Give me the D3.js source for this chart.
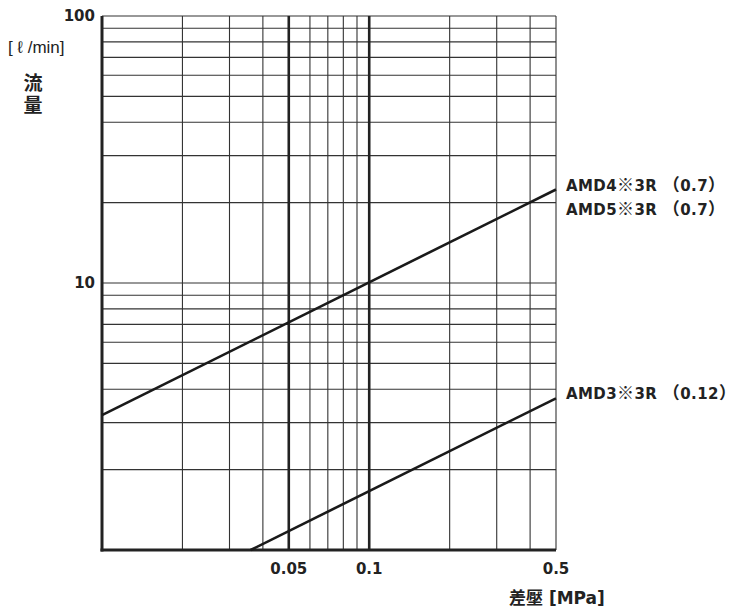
<!DOCTYPE html>
<html>
<head>
<meta charset="utf-8">
<script src="https://cdn.jsdelivr.net/npm/d3@7"></script>
<style>
  html, body { margin: 0; padding: 0; background: #fff; }
  svg text { font-family: "DejaVu Sans", "Noto Sans CJK JP", sans-serif; fill: #222; }
  .cjk { font-family: "Noto Sans CJK JP", sans-serif; font-size: 17px; }
</style>
</head>
<body>
<svg id="chart" width="737" height="613"></svg>
<script>
// ---- data ----
const xDomain = [0.01, 0.5];
const yDomain = [1, 100];
const xGrid = [0.02, 0.03, 0.04, 0.05, 0.06, 0.07, 0.08, 0.09, 0.1, 0.2, 0.3, 0.4, 0.5];
const xBold = [0.05, 0.1];
const yGrid = [2, 3, 4, 5, 6, 7, 8, 9, 10, 20, 30, 40, 50, 60, 70, 80, 90, 100];
const xTickLabels = [0.05, 0.1, 0.5];
const yTickLabels = [10, 100];
const seriesLabelsAMD45 = ["AMD4※3R （0.7）", "AMD5※3R （0.7）"];
const seriesLabelAMD3 = "AMD3※3R （0.12）";
const seriesAMD45 = [{x: 0.01, y: 3.2}, {x: 0.5, y: 22.4}];
const seriesAMD3 = [{x: 0.036, y: 1}, {x: 0.5, y: 3.7}];

const svg = d3.select("#chart");
const mLeft = 102, mRight = 556, mTop = 16, mBottom = 550;
const x = d3.scaleLog().domain(xDomain).range([mLeft, mRight]);
const y = d3.scaleLog().domain(yDomain).range([mBottom, mTop]);

const grid = svg.append("g");
// horizontal grid
grid.selectAll("line.h").data(yGrid).join("line")
  .attr("x1", mLeft).attr("x2", mRight)
  .attr("y1", d => y(d)).attr("y2", d => y(d))
  .attr("stroke", "#333").attr("stroke-width", 1.1);
// vertical grid
grid.selectAll("line.v").data(xGrid).join("line")
  .attr("y1", mTop).attr("y2", mBottom)
  .attr("x1", d => x(d)).attr("x2", d => x(d))
  .attr("stroke", d => xBold.includes(d) ? "#222" : "#333")
  .attr("stroke-width", d => xBold.includes(d) ? 2.6 : 1.1);

// bold axes
svg.append("line").attr("x1", mLeft).attr("x2", mLeft).attr("y1", mTop).attr("y2", mBottom + 1.5)
  .attr("stroke", "#222").attr("stroke-width", 3);
svg.append("line").attr("x1", mLeft - 1.5).attr("x2", mRight).attr("y1", mBottom).attr("y2", mBottom)
  .attr("stroke", "#222").attr("stroke-width", 3);

// series lines
const line = d3.line().x(d => x(d.x)).y(d => y(d.y));
[seriesAMD45, seriesAMD3].forEach(s => {
  svg.append("path").attr("d", line(s)).attr("fill", "none")
    .attr("stroke", "#1a1a1a").attr("stroke-width", 2.6);
});

// y tick labels
svg.selectAll("text.yt").data(yTickLabels).join("text")
  .attr("x", 95).attr("y", d => y(d) + 4.5)
  .attr("text-anchor", "end").attr("font-size", 15).attr("font-weight", "bold")
  .text(d => d);

// x tick labels
svg.selectAll("text.xt").data(xTickLabels).join("text")
  .attr("x", d => x(d)).attr("y", 574)
  .attr("text-anchor", "middle").attr("font-size", 15).attr("font-weight", "bold")
  .text(d => d);

// axis titles
svg.append("text").attr("x", 8).attr("y", 53).attr("font-size", 17)
  .style("font-family", "'Liberation Sans', Arial, sans-serif")
  .text("[ ℓ /min]");
svg.append("text").attr("x", 33).attr("y", 73)
  .attr("writing-mode", "vertical-rl").attr("letter-spacing", 3)
  .attr("font-size", 19).attr("font-weight", "bold")
  .style("font-family", "'Noto Sans CJK JP', sans-serif").text("流量");
svg.append("text").attr("x", 509).attr("y", 604).attr("font-size", 17).attr("font-weight", "bold")
  .text("差壓 [MPa]");

// series labels: CJK symbols rendered in CJK font
function addLabel(str, xPos, yPos) {
  const t = svg.append("text").attr("x", xPos).attr("y", yPos)
    .attr("font-size", 15).attr("font-weight", "bold").attr("letter-spacing", 0.4);
  const parts = str.match(/[※（）]|[^※（）]+/g);
  parts.forEach(p => {
    const ts = t.append("tspan").text(p);
    if (/[※（）]/.test(p)) ts.attr("class", "cjk");
  });
  return t;
}
seriesLabelsAMD45.forEach((s, i) => addLabel(s, 566, 191 + i * 24));
addLabel(seriesLabelAMD3, 566, 399);
</script>
</body>
</html>
